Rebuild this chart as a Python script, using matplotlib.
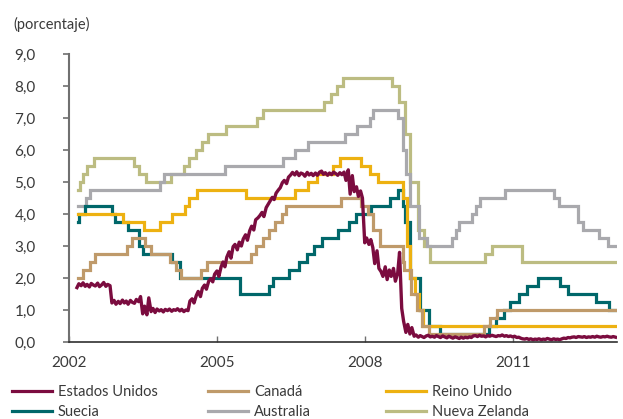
import numpy as np
import pandas as pd
import matplotlib
matplotlib.use("Agg")
import matplotlib.pyplot as plt
import matplotlib.dates as mdates
from matplotlib.lines import Line2D

plt.rcParams['font.family'] = ['Lato', 'DejaVu Sans']

# ---- data (policy rates, %) ----
END = '2013-01-31'

# Estados Unidos: tasa efectiva, valores quincenales desde mar-2002
us_2002 = [1.70, 1.82, 1.76, 1.85, 1.74, 1.80, 1.72, 1.83, 1.78, 1.75, 1.84, 1.73,
           1.79, 1.86, 1.74, 1.80, 1.76, 1.22, 1.30, 1.18]
us_2003 = [1.27, 1.20, 1.31, 1.22, 1.28, 1.18, 1.30, 1.24, 1.21, 1.33, 1.26, 1.42,
           0.88, 1.12, 0.85, 1.38, 0.95, 1.05, 0.92, 1.03, 0.97, 1.01, 0.94, 1.02]
us_2004 = [0.98, 1.03, 0.96, 1.01, 0.99, 1.04, 0.97, 1.02, 0.95, 1.00, 0.98, 1.28,
           1.35, 1.22, 1.45, 1.58, 1.42, 1.68, 1.78, 1.65, 1.90, 1.98, 1.88, 2.12]
us_2005 = [2.22, 2.05, 2.35, 2.50, 2.35, 2.65, 2.82, 2.62, 2.98, 3.05, 2.88, 3.12,
           3.00, 3.22, 3.35, 3.18, 3.48, 3.62, 3.50, 3.82, 3.88, 3.95, 4.05, 3.92]
us_2006 = [4.20, 4.30, 4.42, 4.52, 4.45, 4.65, 4.75, 4.82, 4.98, 5.05, 4.95, 5.15,
           5.22, 5.30, 5.22, 5.32, 5.20, 5.28, 5.25, 5.18, 5.30, 5.22, 5.27, 5.20]
us_2007 = [5.28, 5.21, 5.31, 5.34, 5.24, 5.29, 5.21, 5.28, 5.23, 5.31, 5.26, 5.21,
           5.29, 5.23, 5.31, 5.05, 5.38, 4.62, 5.20, 4.70, 4.85, 4.55, 4.72, 4.50]
us_2008 = [3.10, 3.25, 3.05, 3.20, 2.95, 2.45, 2.85, 2.30, 2.20, 2.05, 2.35, 1.95,
           2.25, 2.05, 2.30, 1.90, 2.15, 2.80, 1.05, 0.65, 0.30, 0.55, 0.25, 0.45]
us_2009 = [0.18, 0.22, 0.15, 0.20, 0.17, 0.14, 0.19, 0.21, 0.16, 0.18, 0.15, 0.20,
           0.17, 0.14, 0.19, 0.16, 0.13, 0.18, 0.15, 0.12, 0.16, 0.14, 0.11, 0.15]
us_2010 = [0.12, 0.15, 0.13, 0.16, 0.14, 0.19, 0.20, 0.17, 0.21, 0.18, 0.19, 0.16,
           0.20, 0.18, 0.21, 0.19, 0.17, 0.20, 0.19, 0.22, 0.18, 0.20, 0.17, 0.19]
us_2011 = [0.16, 0.18, 0.14, 0.15, 0.12, 0.10, 0.09, 0.11, 0.08, 0.10, 0.07, 0.09,
           0.08, 0.10, 0.07, 0.09, 0.08, 0.11, 0.09, 0.07, 0.10, 0.08, 0.09, 0.07]
us_2012 = [0.10, 0.12, 0.11, 0.14, 0.13, 0.15, 0.16, 0.14, 0.17, 0.16, 0.15, 0.17,
           0.14, 0.16, 0.15, 0.17, 0.15, 0.18, 0.16, 0.15, 0.17, 0.16, 0.18, 0.16]
us_2013 = [0.15, 0.17, 0.15]

# the others change by steps: date of change -> new rate
ca_dates = ['2002-03-10', '2002-04-16', '2002-06-04', '2002-07-16', '2003-03-04', '2003-04-15',
            '2003-07-15', '2003-09-03', '2004-01-20', '2004-03-02', '2004-04-13', '2004-09-08',
            '2004-10-19', '2005-09-07', '2005-10-18', '2005-12-06', '2006-01-24', '2006-03-07',
            '2006-04-25', '2006-05-24', '2007-07-10', '2007-12-04', '2008-01-22', '2008-03-04',
            '2008-04-22', '2008-10-08', '2008-10-21', '2008-12-09', '2009-01-20', '2009-03-03',
            '2009-04-21', '2010-06-01', '2010-07-20', '2010-09-08']
ca_vals = [2.00, 2.25, 2.50, 2.75, 3.00, 3.25, 3.00, 2.75, 2.50, 2.25, 2.00, 2.25,
           2.50, 2.75, 3.00, 3.25, 3.50, 3.75, 4.00, 4.25, 4.50, 4.25, 4.00, 3.50,
           3.00, 2.50, 2.25, 1.50, 1.00, 0.50, 0.25, 0.50, 0.75, 1.00]

uk_dates = ['2002-03-10', '2003-02-06', '2003-07-10', '2003-11-06', '2004-02-05', '2004-05-06',
            '2004-06-10', '2004-08-05', '2005-08-04', '2006-08-03', '2006-11-09', '2007-01-11',
            '2007-05-10', '2007-07-05', '2007-12-06', '2008-02-07', '2008-04-10', '2008-10-08',
            '2008-11-06', '2008-12-04', '2009-01-08', '2009-02-05', '2009-03-05']
uk_vals = [4.00, 3.75, 3.50, 3.75, 4.00, 4.25, 4.50, 4.75, 4.50, 4.75, 5.00, 5.25,
           5.50, 5.75, 5.50, 5.25, 5.00, 4.50, 3.00, 2.00, 1.50, 1.00, 0.50]

se_dates = ['2002-03-10', '2002-03-19', '2002-04-26', '2002-11-15', '2002-12-05', '2003-03-17',
            '2003-06-05', '2003-07-04', '2004-02-06', '2004-03-31', '2005-06-21', '2006-01-20',
            '2006-02-23', '2006-06-20', '2006-08-31', '2006-10-27', '2006-12-20', '2007-02-16',
            '2007-06-20', '2007-09-07', '2007-10-30', '2008-02-14', '2008-07-03', '2008-09-04',
            '2008-10-08', '2008-10-23', '2008-12-03', '2009-02-11', '2009-04-21', '2009-07-08',
            '2010-07-07', '2010-09-02', '2010-10-26', '2010-12-15', '2011-02-16', '2011-04-20',
            '2011-07-05', '2011-12-20', '2012-02-15', '2012-09-07', '2012-12-18']
se_vals = [3.75, 4.00, 4.25, 4.00, 3.75, 3.50, 3.00, 2.75, 2.50, 2.00, 1.50, 1.75,
           2.00, 2.25, 2.50, 2.75, 3.00, 3.25, 3.50, 3.75, 4.00, 4.25, 4.50, 4.75,
           4.25, 3.75, 2.00, 1.00, 0.50, 0.25, 0.50, 0.75, 1.00, 1.25, 1.50, 1.75,
           2.00, 1.75, 1.50, 1.25, 1.00]

au_dates = ['2002-03-10', '2002-05-08', '2002-06-05', '2003-11-05', '2003-12-03', '2005-03-02',
            '2006-05-03', '2006-08-02', '2006-11-08', '2007-08-08', '2007-11-07', '2008-02-06',
            '2008-03-05', '2008-09-03', '2008-10-08', '2008-11-05', '2008-12-03', '2009-02-04',
            '2009-04-08', '2009-10-07', '2009-11-04', '2009-12-02', '2010-03-03', '2010-04-07',
            '2010-05-05', '2010-11-03', '2011-11-02', '2011-12-07', '2012-05-02', '2012-06-06',
            '2012-10-03', '2012-12-05']
au_vals = [4.25, 4.50, 4.75, 5.00, 5.25, 5.50, 5.75, 6.00, 6.25, 6.50, 6.75, 7.00,
           7.25, 7.00, 6.00, 5.25, 4.25, 3.25, 3.00, 3.25, 3.50, 3.75, 4.00, 4.25,
           4.50, 4.75, 4.50, 4.25, 3.75, 3.50, 3.25, 3.00]

nz_dates = ['2002-03-10', '2002-03-20', '2002-04-17', '2002-05-15', '2002-07-03', '2003-04-24',
            '2003-06-05', '2003-07-24', '2004-01-29', '2004-04-29', '2004-06-10', '2004-07-29',
            '2004-09-09', '2004-10-28', '2005-03-10', '2005-10-27', '2005-12-08', '2007-03-08',
            '2007-04-26', '2007-06-07', '2007-07-26', '2008-07-24', '2008-09-11', '2008-10-23',
            '2008-12-04', '2009-01-29', '2009-03-12', '2009-04-30', '2010-06-10', '2010-07-29',
            '2011-03-10']
nz_vals = [4.75, 5.00, 5.25, 5.50, 5.75, 5.50, 5.25, 5.00, 5.25, 5.50, 5.75, 6.00,
           6.25, 6.50, 6.75, 7.00, 7.25, 7.50, 7.75, 8.00, 8.25, 8.00, 7.50, 6.50,
           5.00, 3.50, 3.00, 2.50, 2.75, 3.00, 2.50]

names = ['Estados Unidos', 'Canadá', 'Reino Unido', 'Suecia', 'Australia', 'Nueva Zelanda']
colors = ['#7B0C3F', '#BF9A6A', '#EDB111', '#00676A', '#A9A9AD', '#BCBC82']
yticks = [0, 1, 2, 3, 4, 5, 6, 7, 8, 9]
xyears = [2002, 2005, 2008, 2011]


def steps(dates, vals):
    d = pd.to_datetime(list(dates) + [END])
    return d, list(vals) + [vals[-1]]


us_v = (us_2002 + us_2003 + us_2004 + us_2005 + us_2006 + us_2007 + us_2008 +
        us_2009 + us_2010 + us_2011 + us_2012 + us_2013)
us_d = pd.date_range('2002-03-01', periods=len(us_v), freq='SMS')

fig = plt.figure(figsize=(6.23, 4.19), dpi=100)
ax = fig.add_axes([69 / 623, 1 - 342 / 419, 548 / 623, 288 / 419])

step_data = [(nz_dates, nz_vals, 5), (au_dates, au_vals, 4), (se_dates, se_vals, 3),
             (uk_dates, uk_vals, 2), (ca_dates, ca_vals, 1)]
for dts, vals, k in step_data:
    d, v = steps(dts, vals)
    ax.step(d, v, where='post', color=colors[k], lw=2.3, solid_joinstyle='miter')
ax.plot(us_d, us_v, color=colors[0], lw=2.4)

ax.set_ylim(0, 9)
ax.set_xlim(pd.Timestamp('2002-01-01'), pd.Timestamp('2013-02-12'))
ax.set_yticks(yticks)
ax.set_yticklabels([f'{v:.1f}'.replace('.', ',') for v in yticks])
ax.set_xticks([pd.Timestamp(f'{y}-01-01') for y in xyears])
ax.set_xticklabels([str(y) for y in xyears])

for s in ['top', 'right']:
    ax.spines[s].set_visible(False)
ax.spines['left'].set_color('#707070')
ax.spines['left'].set_linewidth(1.5)
ax.spines['bottom'].set_color('#303030')
ax.spines['bottom'].set_linewidth(1.2)
ax.tick_params(axis='y', direction='out', length=4, width=1.2, color='#707070',
               labelsize=11, labelcolor='#3a3a3a', pad=20)
ax.tick_params(axis='x', direction='in', length=4, width=1, color='#707070',
               labelsize=11, labelcolor='#3a3a3a', pad=10)

fig.text(13 / 623, 1 - 24 / 419, '(porcentaje)', fontsize=10.5, color='#3a3a3a',
         va='center', ha='left')

# legend: three columns, two rows
handles = [Line2D([], [], color=c, lw=2.3) for c in colors]
cols = [(0, 3, 12), (1, 4, 208), (2, 5, 386)]
for a, b, x in cols:
    fig.legend([handles[a], handles[b]], [names[a], names[b]], loc='upper left',
               bbox_to_anchor=(x / 623, 1 - 385 / 419), frameon=False, borderpad=0,
               borderaxespad=0, handlelength=2.75, handletextpad=0.4, labelspacing=0.4,
               fontsize=10.5, labelcolor='#3a3a3a')

fig.savefig('out.png', dpi=100)
